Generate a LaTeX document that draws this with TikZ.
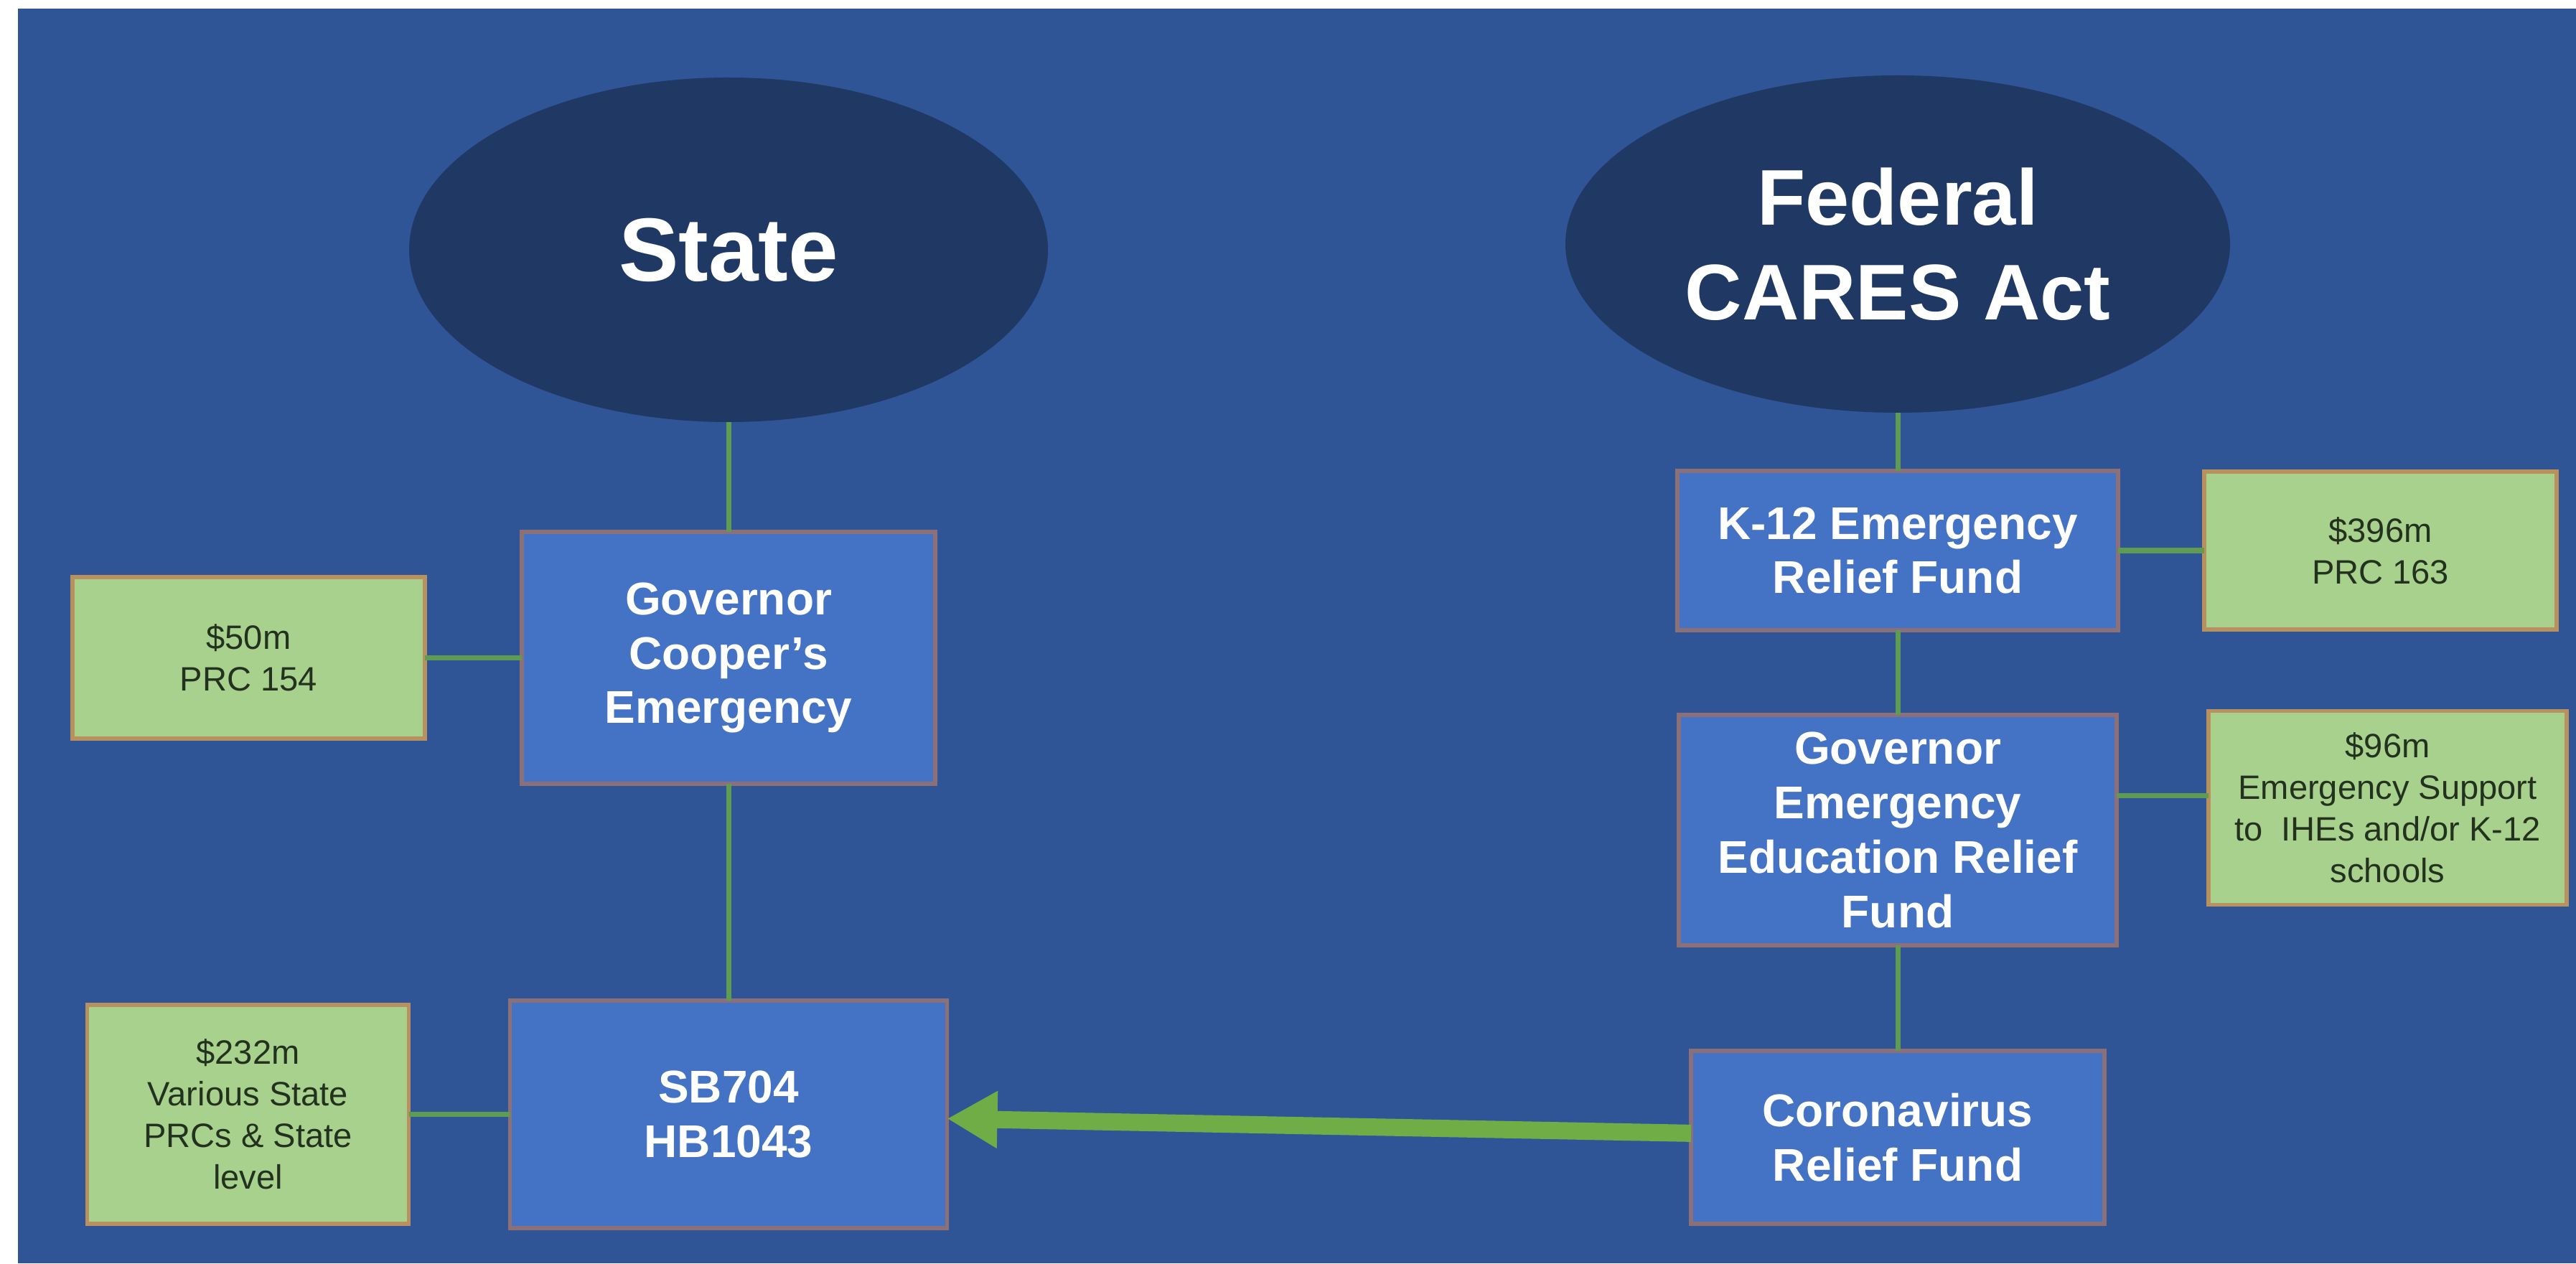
\documentclass[tikz,border=0pt]{standalone}
\usepackage{fontspec}
\setmainfont{Liberation Sans}
\usepackage{tikz}
\usetikzlibrary{arrows.meta,positioning,shapes.geometric}
\definecolor{PageBlue}{RGB}{47,85,151}
\definecolor{DeepNavy}{RGB}{32,56,100}
\definecolor{BoxBlue}{RGB}{68,114,196}
\definecolor{BoxEdge}{RGB}{140,112,120}
\definecolor{FundGreen}{RGB}{169,209,142}
\definecolor{FundEdge}{RGB}{185,145,95}
\definecolor{NoteText}{RGB}{35,50,30}
\definecolor{LinkGreen}{RGB}{95,155,80}
\definecolor{ArrowGreen}{RGB}{112,173,71}

\begin{document}
\begin{tikzpicture}[node distance=1.3cm,
  head/.style={ellipse, fill=DeepNavy, text=white, inner sep=0pt, outer sep=0pt, align=center},
  fund/.style={draw=BoxEdge, line width=1.5pt, fill=BoxBlue, text=white, align=center, inner sep=0pt, outer sep=0pt, font=\fontsize{18.2}{21.6}\selectfont\bfseries},
  amount/.style={draw=FundEdge, line width=1.5pt, fill=FundGreen, text=NoteText, align=center, inner sep=0pt, outer sep=0pt, font=\fontsize{13.4}{16.5}\selectfont},
  link/.style={draw=LinkGreen, line width=2pt},
  transfer/.style={draw=ArrowGreen, line width=0.24cm, -{Triangle[length=0.7cm,width=0.75cm]}}]
\useasboundingbox (0,0) rectangle (35.89,17.60);
\fill[PageBlue] (0.25,0) rectangle (35.89,17.48);

\node[head, minimum width=8.9cm, minimum height=4.8cm, font=\fontsize{35.6}{40}\selectfont\bfseries] (state) at (10.15,14.12) {State};
\node[head, minimum width=9.26cm, minimum height=4.7cm, font=\fontsize{31.3}{37.5}\selectfont\bfseries] (federal) at (26.44,14.20) {Federal\\CARES Act};

\node[fund, below=1.53cm of state, minimum width=5.76cm, minimum height=3.51cm] (gcoop) {Governor\\Cooper’s\\Emergency};
\node[amount, left=1.35cm of gcoop, minimum width=4.91cm, minimum height=2.25cm] (s50) {\$50m\\PRC 154};
\node[fund, below=3.02cm of gcoop, minimum width=6.09cm, minimum height=3.17cm] (sb) {SB704\\HB1043};
\node[amount, left=1.41cm of sb, minimum width=4.48cm, minimum height=3.05cm] (s232) {\$232m\\Various State\\PRCs \& State\\level};

\node[fund, below=0.81cm of federal, minimum width=6.14cm, minimum height=2.22cm] (k12) {K-12 Emergency\\Relief Fund};
\node[amount, right=1.2cm of k12, minimum width=4.91cm, minimum height=2.2cm] (s396) {\$396m\\PRC 163};
\node[fund, below=1.18cm of k12, minimum width=6.1cm, minimum height=3.21cm] (geer) {Governor\\Emergency\\Education Relief\\Fund};
\node[amount, right=1.28cm of geer, yshift=0.31cm, minimum width=4.99cm, minimum height=2.7cm] (s96) {\$96m\\Emergency Support\\to\ \ IHEs and/or K-12\\schools};
\node[fund, below=1.47cm of geer, minimum width=5.76cm, minimum height=2.41cm] (crf) {Coronavirus\\Relief Fund};

\draw[link] (state) -- (gcoop);
\draw[link] (gcoop) -- (sb);
\draw[link] (s50) -- (gcoop);
\draw[link] (s232) -- (sb);
\draw[link] (federal) -- (k12);
\draw[link] (k12) -- (geer);
\draw[link] (geer) -- (crf);
\draw[link] (k12) -- (s396);
\draw[link] ([yshift=0.48cm]geer.east) -- ([yshift=0.48cm]geer.east -| s96.west);
\draw[transfer] (crf) -- (sb);
\end{tikzpicture}
\end{document}
